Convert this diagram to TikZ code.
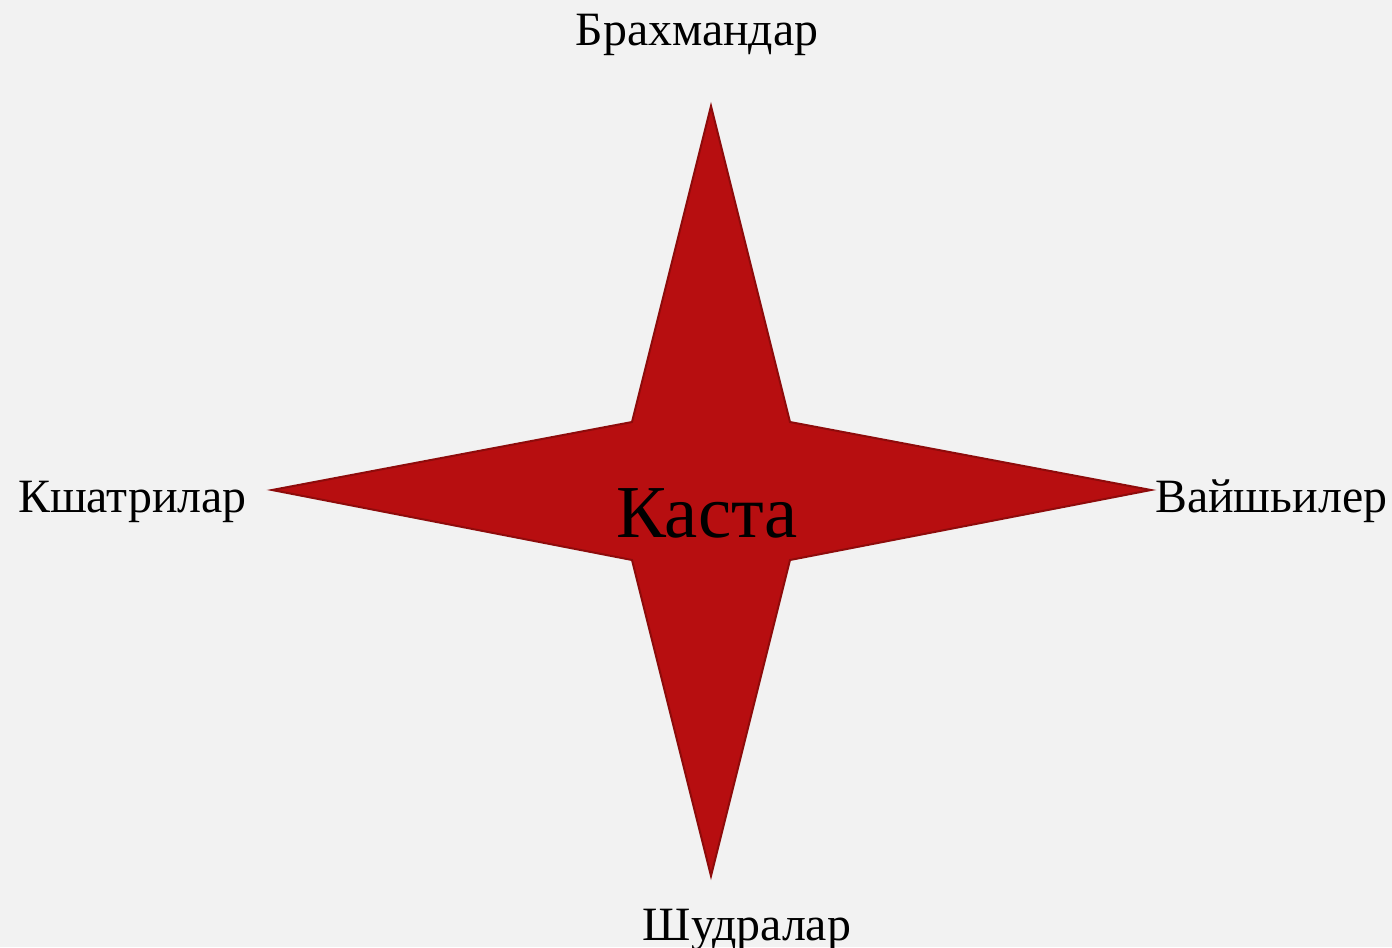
\documentclass[tikz,border=0pt]{standalone}
\usepackage{fontspec}
\setmainfont{Liberation Serif}
\definecolor{bg}{HTML}{F2F2F2}
\definecolor{starfill}{HTML}{B70E10}
\definecolor{starline}{HTML}{8E0B0B}
\begin{document}
\begin{tikzpicture}[x=1bp,y=-1bp,
  lbl/.style={font=\fontsize{48}{52}\selectfont, inner sep=0pt, anchor=base},
  centerlbl/.style={font=\fontsize{75}{80}\selectfont, inner sep=0pt, anchor=base}]
\fill[bg] (0,0) rectangle (1392,947);
\useasboundingbox (0,0) rectangle (1392,947);
\draw[fill=starfill, draw=starline, line width=2bp, line join=miter]
  (711,106) -- (790,422) -- (1151,490) -- (790,560) -- (711,876)
  -- (632,560) -- (272,490) -- (632,422) -- cycle;
\node[centerlbl] (kasta) at (707,537) {Каста};
\node[lbl] (brah) at (697,45) {Брахмандар};
\node[lbl, anchor=base west] (kshat) at (18,512) {Кшатрилар};
\node[lbl, anchor=base west] (vaish) at (1155,512) {Вайшьилер};
\node[lbl] (shud) at (747,940) {Шудралар};
\end{tikzpicture}
\end{document}
